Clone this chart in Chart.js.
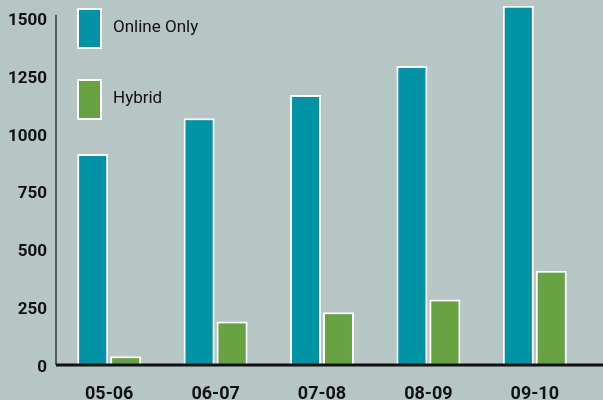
<!DOCTYPE html>
<html>
<head>
<meta charset="utf-8">
<script src="https://cdn.jsdelivr.net/npm/chart.js@4.4.1/dist/chart.umd.min.js"></script>
<style>
    html, body { margin: 0; padding: 0; background: #b5c6c5; }
    #wrap { width: 603px; height: 400px; }
</style>
</head>
<body>
<div id="wrap"><canvas id="chart"></canvas></div>
<script>
// --- Data ---
const years = ['05-06', '06-07', '07-08', '08-09', '09-10'];
const onlineOnly = [910, 1065, 1165, 1290, 1550];
const hybrid = [38, 188, 228, 283, 407];
const yTicks = [0, 250, 500, 750, 1000, 1250, 1500];

const TEAL = '#0094a6';
const GREEN = '#67a441';
const FONT = "Roboto, 'DejaVu Sans', sans-serif";

// Axis lines + stacked legend drawn by hand (legend boxes are tall rectangles)
const decorations = {
    id: 'decorations',
    afterDatasetsDraw(chart) {
        const ctx = chart.ctx;
        const area = chart.chartArea;
        const y = chart.scales.y;
        const zero = y.getPixelForValue(0);

        ctx.save();
        // y axis
        ctx.strokeStyle = '#333';
        ctx.lineWidth = 1.5;
        ctx.beginPath();
        ctx.moveTo(area.left, y.getPixelForValue(1510));
        ctx.lineTo(area.left, zero);
        ctx.stroke();
        // x axis, runs to the edge of the picture
        ctx.strokeStyle = '#111';
        ctx.lineWidth = 3;
        ctx.beginPath();
        ctx.moveTo(area.left, zero);
        ctx.lineTo(chart.width, zero);
        ctx.stroke();

        // legend
        ctx.font = '17px ' + FONT;
        ctx.textBaseline = 'middle';
        ctx.textAlign = 'left';
        chart.data.datasets.forEach((ds, i) => {
            const bx = area.left + 21;
            const by = 8 + i * 71;
            ctx.fillStyle = '#fff';
            ctx.fillRect(bx, by, 25, 41);
            ctx.fillStyle = ds.backgroundColor;
            ctx.fillRect(bx + 2, by + 2, 21, 37);
            ctx.fillStyle = '#111';
            ctx.fillText(ds.label, bx + 36, by + 20);
        });
        ctx.restore();
    }
};

const ctx = document.getElementById('chart').getContext('2d');
new Chart(ctx, {
    type: 'bar',
    data: {
        labels: years,
        datasets: [
            { label: 'Online Only', data: onlineOnly, backgroundColor: TEAL },
            { label: 'Hybrid', data: hybrid, backgroundColor: GREEN }
        ]
    },
    options: {
        responsive: true,
        maintainAspectRatio: false,
        animation: false,
        layout: { padding: { top: 0, right: 15, left: 0, bottom: 0 } },
        datasets: {
            bar: {
                borderColor: '#fff',
                borderWidth: 2,
                borderSkipped: 'bottom',
                categoryPercentage: 0.62,
                barPercentage: 0.94
            }
        },
        plugins: {
            legend: { display: false },
            tooltip: { enabled: false }
        },
        scales: {
            x: {
                grid: { display: false, drawTicks: false },
                border: { display: false },
                ticks: {
                    color: '#111',
                    padding: 19,
                    font: { family: FONT, size: 18, weight: 'bold' }
                },
                afterFit: s => {
                    s.height = 35;
                    s.paddingLeft = 0; s.paddingRight = 0;
                }
            },
            y: {
                min: 0,
                max: 1575,
                grid: { display: false, drawTicks: false },
                border: { display: false },
                afterBuildTicks: s => { s.ticks = yTicks.map(v => ({ value: v })); },
                ticks: {
                    color: '#111',
                    padding: 9,
                    labelOffset: 3,
                    callback: v => String(v),
                    font: { family: FONT, size: 17, weight: 'bold' }
                },
                afterFit: s => {
                    s.width = 56;
                    s.paddingTop = 0; s.paddingBottom = 0;
                }
            }
        }
    },
    plugins: [decorations]
});
</script>
</body>
</html>
